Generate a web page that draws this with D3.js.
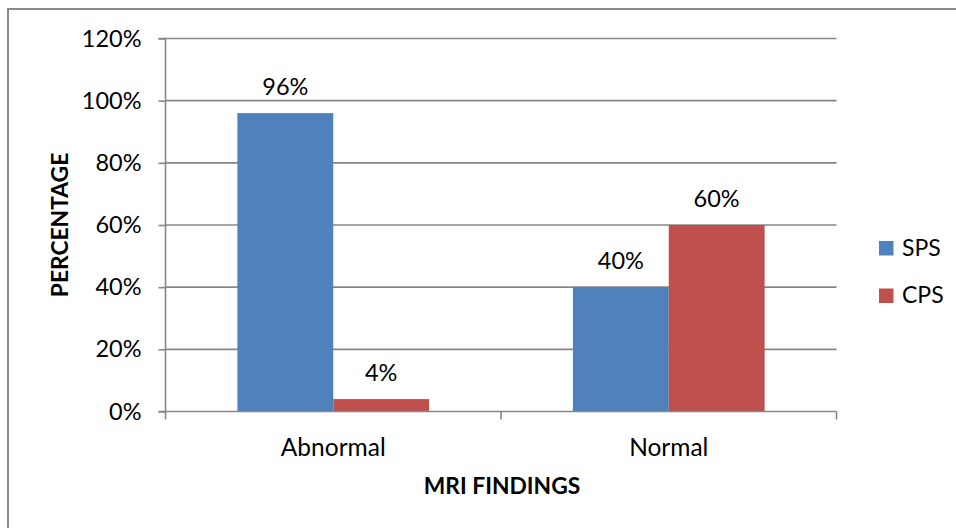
<!DOCTYPE html>
<html>
<head>
<meta charset="utf-8">
<script src="https://cdn.jsdelivr.net/npm/d3@7"></script>
<style>
  html, body { margin: 0; padding: 0; background: #fff; }
  svg { display: block; }
  text { font-family: Lato, "Open Sans", sans-serif; fill: #000; }
</style>
</head>
<body>
<svg id="chart" width="956" height="528"></svg>
<script>
const categories = ["Abnormal", "Normal"];
const seriesNames = ["SPS", "CPS"];
const spsValues = [96, 40];
const cpsValues = [4, 60];
const yTicks = [0, 20, 40, 60, 80, 100, 120];
const colors = { SPS: "#4F81BD", CPS: "#C0504D" };

const svg = d3.select("#chart");

// outer chart border (extends past right/bottom edges)
svg.append("rect")
  .attr("x", 8).attr("y", 9).attr("width", 1000).attr("height", 600)
  .attr("fill", "none").attr("stroke", "#8a8a8a").attr("stroke-width", 2);

const plot = { left: 165.5, right: 836.5, top: 38.5, bottom: 411.5 };

const x0 = d3.scaleBand().domain(categories).range([plot.left, plot.right]).paddingInner(0).paddingOuter(0);
const bw = x0.bandwidth() / 3.5;
const x1 = d3.scaleBand().domain(seriesNames).range([0, bw * 2]).padding(0);
const y = d3.scaleLinear().domain([0, 120]).range([plot.bottom, plot.top]);

const gridColor = "#878787";

// gridlines
svg.append("g").selectAll("line").data(yTicks.filter(t => t > 0)).join("line")
  .attr("x1", plot.left).attr("x2", plot.right)
  .attr("y1", d => y(d)).attr("y2", d => y(d))
  .attr("stroke", gridColor).attr("stroke-width", 1.6);

// bars
const data = categories.map((c, i) => ({ cat: c, vals: [
  { s: "SPS", v: spsValues[i] }, { s: "CPS", v: cpsValues[i] }
]}));

const groups = svg.append("g").selectAll("g").data(data).join("g")
  .attr("transform", d => `translate(${x0(d.cat) + bw * 0.75},0)`);

groups.selectAll("rect").data(d => d.vals).join("rect")
  .attr("x", d => x1(d.s)).attr("width", x1.bandwidth())
  .attr("y", d => y(d.v)).attr("height", d => y(0) - y(d.v))
  .attr("fill", d => colors[d.s]);

groups.selectAll("text").data(d => d.vals).join("text")
  .attr("x", d => x1(d.s) + x1.bandwidth() / 2)
  .attr("y", d => y(d.v) - 18)
  .attr("text-anchor", "middle")
  .style("font-size", "23.5px")
  .text(d => d.v + "%");

// Y axis
const yAxis = d3.axisLeft(y).tickValues(yTicks).tickFormat(d => d + "%").tickSize(7).tickPadding(17);
const gy = svg.append("g").attr("transform", `translate(${plot.left},0)`).call(yAxis);
gy.select(".domain").attr("stroke", gridColor).attr("stroke-width", 1.6).attr("d", `M-7,${plot.top}H0V${plot.bottom}H-7`);
gy.selectAll(".tick line").attr("stroke", gridColor).attr("stroke-width", 1.6);
gy.selectAll(".tick text").style("font-size", "23.5px").style("font-family", "Lato, 'Open Sans', sans-serif").attr("fill", "#000");

// X axis
const xAxis = d3.axisBottom(x0).tickSize(0).tickPadding(27);
const gx = svg.append("g").attr("transform", `translate(0,${plot.bottom})`).call(xAxis);
gx.select(".domain").attr("stroke", gridColor).attr("stroke-width", 1.6).attr("d", `M${plot.left},0H${plot.right}`);
gx.selectAll(".tick text").style("font-size", "24.5px").style("font-family", "Lato, 'Open Sans', sans-serif").attr("fill", "#000");
// category separator ticks
const sepTicks = [plot.left, x0(categories[1]), plot.right];
svg.append("g").selectAll("line").data(sepTicks).join("line")
  .attr("x1", d => d).attr("x2", d => d)
  .attr("y1", plot.bottom).attr("y2", plot.bottom + 8)
  .attr("stroke", gridColor).attr("stroke-width", 1.6);

// axis titles
svg.append("text")
  .attr("x", (plot.left + plot.right) / 2 + 1).attr("y", 494)
  .attr("text-anchor", "middle")
  .style("font-size", "22.8px").style("font-weight", "bold")
  .text("MRI FINDINGS");

svg.append("text")
  .attr("transform", `translate(68,${(plot.top + plot.bottom) / 2}) rotate(-90)`)
  .attr("text-anchor", "middle")
  .style("font-size", "22.8px").style("font-weight", "bold")
  .text("PERCENTAGE");

// legend
const legend = svg.append("g").selectAll("g").data(seriesNames).join("g")
  .attr("transform", (d, i) => `translate(879,${241 + i * 47.5})`);
legend.append("rect").attr("width", 14.5).attr("height", 14.5).attr("fill", d => colors[d]);
legend.append("text").attr("x", 23).attr("y", 14.5).style("font-size", "23px").text(d => d);
</script>
</body>
</html>
